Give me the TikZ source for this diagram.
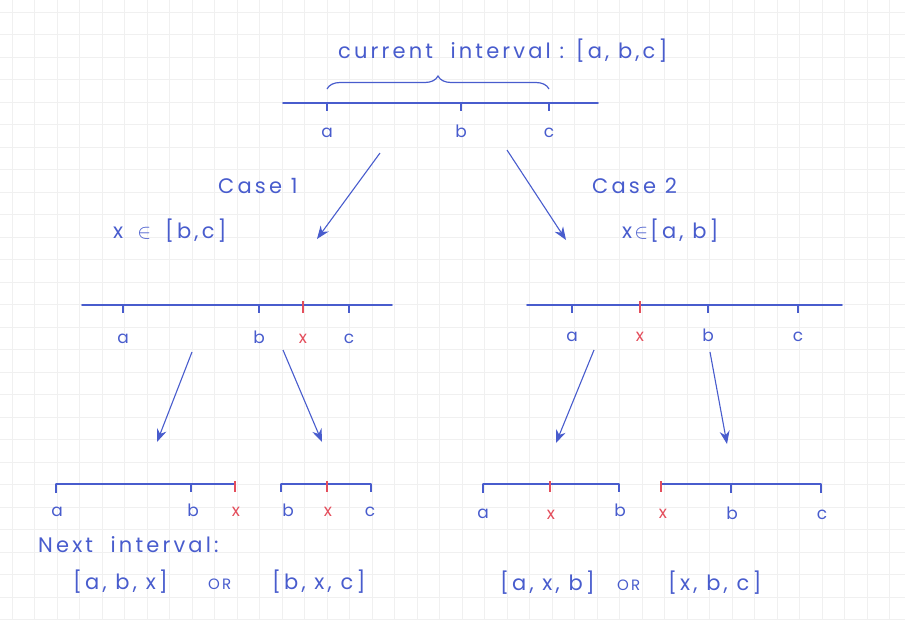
\documentclass[tikz,border=0pt]{standalone}
\usepackage{fontspec}
\setmainfont{Poppins}
\usepackage{tikz}
\usetikzlibrary{arrows.meta,positioning,decorations.pathreplacing}
\definecolor{pen}{RGB}{72,92,205}
\definecolor{redpen}{RGB}{228,78,92}
\definecolor{paperline}{RGB}{240,240,240}
\tikzset{
  paper/.style={draw=paperline,line width=0.5pt},
  axis/.style={draw=pen,line width=1.8pt,line cap=round},
  tk/.style={draw=pen,line width=1.8pt},
  rtk/.style={draw=redpen,line width=2.2pt},
  lbl/.style={text=pen,anchor=base,inner sep=1pt,font=\fontsize{17}{19}\selectfont},
  rlbl/.style={lbl,text=redpen},
  note/.style={text=pen,anchor=base west,inner sep=0pt,
               font=\fontsize{21}{23}\selectfont\addfontfeatures{LetterSpace=15}},
  small/.style={note,font=\fontsize{15}{17}\selectfont\addfontfeatures{LetterSpace=15}},
  arr/.style={-{Stealth[length=13pt,width=10pt]},draw=pen,line width=1.1pt},
  brc/.style={draw=pen,line width=1.2pt,decorate,
              decoration={brace,amplitude=13pt,aspect=0.5}},
}

\begin{document}
\begin{tikzpicture}[x=1pt,y=-1pt]
  \useasboundingbox (0,0) rectangle (905,619);
  % squared paper
  \foreach \k in {0,...,39} \draw[paper] ({12+22.5*\k},0) -- ({12+22.5*\k},619);
  \foreach \k in {0,...,27} \draw[paper] (0,{12+22.5*\k}) -- (905,{12+22.5*\k});

  % current interval
  \node[note] (title) at (338,58) {current\ \ interval : [a, b,c]};
  \coordinate (top0) at (283,103);
  \coordinate (top1) at (598,103);
  \draw[axis] (top0) -- (top1);
  \foreach \n/\p in {a/327,b/461,c/549}{
    \draw[tk] (\p,103) -- (\p,111);
    \node[lbl] (top\n) at (\p,137) {\n};
  }
  \draw[brc] (327,89) -- (549,89);

  % the two cases
  \node[note] (case1) at (218,193) {Case 1};
  \node[note] (cond1) at (113,238) {x\hspace{14pt}$\in$\hspace{14pt}[b,c]};
  \node[note] (case2) at (592,193) {Case 2};
  \node[note] (cond2) at (622,238) {x\hspace{2pt}$\in$\hspace{2pt}[a, b]};
  \coordinate (c1s) at (380,153);
  \coordinate (c1e) at (317,239);
  \coordinate (c2s) at (507,150);
  \coordinate (c2e) at (566,240);
  \draw[arr] (c1s) -- (c1e);
  \draw[arr] (c2s) -- (c2e);

  % case 1 line
  \coordinate (m1l) at (82,305);
  \coordinate (m1r) at (392,305);
  \draw[axis] (m1l) -- (m1r);
  \foreach \n/\p in {a/123,b/259,c/349}{
    \draw[tk] (\p,305) -- (\p,313);
    \node[lbl] (ml\n) at (\p,343) {\n};
  }
  \draw[rtk] (303,301) -- (303,313);
  \node[rlbl] (mlx) at (303,343) {x};

  % case 2 line
  \coordinate (m2l) at (527,305);
  \coordinate (m2r) at (842,305);
  \draw[axis] (m2l) -- (m2r);
  \foreach \n/\p in {a/572,b/708,c/798}{
    \draw[tk] (\p,305) -- (\p,313);
    \node[lbl] (mr\n) at (\p,341) {\n};
  }
  \draw[rtk] (640,301) -- (640,313);
  \node[rlbl] (mrx) at (640,341) {x};

  % arrows to the next intervals
  \coordinate (d1s) at (192,352);
  \coordinate (d1e) at (157,442);
  \coordinate (d2s) at (283,350);
  \coordinate (d2e) at (322,442);
  \coordinate (d3s) at (594,350);
  \coordinate (d3e) at (556,443);
  \coordinate (d4s) at (710,352);
  \coordinate (d4e) at (727,444);
  \foreach \s/\e in {d1s/d1e,d2s/d2e,d3s/d3e,d4s/d4e}
    \draw[arr] (\s) -- (\e);

  % next intervals, case 1
  \draw[axis] (56,484) -- (235,484);
  \draw[tk] (56,484) -- (56,493);
  \draw[tk] (191,484) -- (191,492);
  \draw[rtk] (235,481) -- (235,492);
  \node[lbl] (n1a) at (57,516) {a};
  \node[lbl] (n1b) at (193,516) {b};
  \node[rlbl] (n1x) at (236,516) {x};

  \draw[axis] (281,484) -- (371,484);
  \draw[tk] (281,484) -- (281,492);
  \draw[rtk] (327,481) -- (327,492);
  \draw[tk] (371,484) -- (371,492);
  \node[lbl] (n2b) at (288,516) {b};
  \node[rlbl] (n2x) at (328,516) {x};
  \node[lbl] (n2c) at (370,516) {c};

  % next intervals, case 2
  \draw[axis] (483,484) -- (619,484);
  \draw[tk] (483,484) -- (483,493);
  \draw[rtk] (550,481) -- (550,492);
  \draw[tk] (619,484) -- (619,492);
  \node[lbl] (n3a) at (483,518) {a};
  \node[rlbl] (n3x) at (551,519) {x};
  \node[lbl] (n3b) at (620,516) {b};

  \draw[axis] (661,484) -- (821,484);
  \draw[rtk] (661,481) -- (661,492);
  \draw[tk] (731,484) -- (731,493);
  \draw[tk] (821,484) -- (821,493);
  \node[rlbl] (n4x) at (663,518) {x};
  \node[lbl] (n4b) at (732,519) {b};
  \node[lbl] (n4c) at (822,519) {c};

  % next interval
  \node[note] (next) at (38,552) {Next\ \ interval:};
  \node[note] (opt1) at (73,589) {[a, b, x]};
  \node[small] (or1) at (208,589) {OR};
  \node[note] (opt2) at (272,589) {[b, x, c]};
  \node[note] (opt3) at (500,590) {[a, x, b]};
  \node[small] (or2) at (617,590) {OR};
  \node[note] (opt4) at (668,590) {[x, b, c]};
\end{tikzpicture}
\end{document}
